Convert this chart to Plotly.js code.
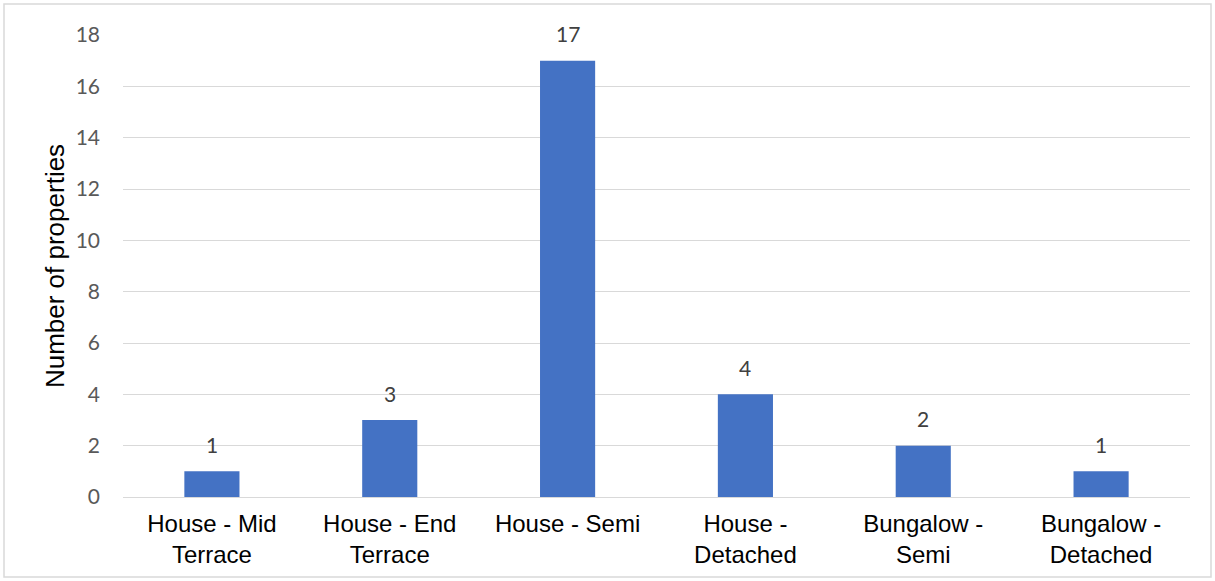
<!DOCTYPE html>
<html>
<head>
<meta charset="utf-8">
<script src="https://cdn.plot.ly/plotly-3.0.1.min.js"></script>
<style>
html, body { margin: 0; padding: 0; background: #ffffff; }
#chart { width: 1215px; height: 581px; }
</style>
</head>
<body>
<div id="chart"></div>
<script>
var categories = ["House - Mid<br>Terrace", "House - End<br>Terrace", "House - Semi", "House -<br>Detached", "Bungalow -<br>Semi", "Bungalow -<br>Detached"];
var counts = [1, 3, 17, 4, 2, 1];
var yTickValues = [0, 2, 4, 6, 8, 10, 12, 14, 16, 18];

var W = 1215, H = 581;
var M = {l: 123, r: 25, t: 35, b: 84};
var pw = W - M.l - M.r, ph = H - M.t - M.b;

var trace = {
  type: "bar",
  x: categories,
  y: counts,
  marker: {color: "#4472C4"},
  hoverinfo: "x+y"
};

var labels = categories.map(function (c, i) {
  return {
    x: c, y: counts[i], xref: "x", yref: "y",
    text: String(counts[i]), showarrow: false,
    yanchor: "middle", yshift: 27,
    font: {family: "Lato, 'Open Sans', sans-serif", size: 21, color: "#404040"}
  };
});

var layout = {
  width: W, height: H,
  margin: M,
  paper_bgcolor: "#ffffff",
  plot_bgcolor: "#ffffff",
  bargap: 0.69,
  showlegend: false,
  xaxis: {
    type: "category",
    showgrid: false,
    showline: false,
    ticks: "",
    ticklabelstandoff: 10,
    tickfont: {family: "'Liberation Sans', Arial, sans-serif", size: 24, color: "#000000"},
    automargin: false
  },
  yaxis: {
    range: [0, 18],
    tickvals: yTickValues,
    ticktext: yTickValues.map(String),
    showgrid: true,
    gridcolor: "#d9d9d9",
    gridwidth: 1,
    zeroline: true,
    zerolinecolor: "#d9d9d9",
    zerolinewidth: 1,
    showline: false,
    ticks: "",
    ticklabelstandoff: 22,
    tickfont: {family: "Lato, 'Open Sans', sans-serif", size: 21, color: "#595959"},
    title: {
      text: "Number of properties",
      font: {family: "'Liberation Sans', Arial, sans-serif", size: 26, color: "#000000"},
      standoff: 3
    },
    automargin: false
  },
  annotations: labels,
  shapes: [{
    type: "rect", xref: "paper", yref: "paper",
    x0: (4 - M.l) / pw, x1: (W - 4 - M.l) / pw,
    y0: (H - M.b - (H - 4)) / ph, y1: (H - M.b - 4) / ph,
    line: {color: "#d9d9d9", width: 1.5},
    fillcolor: "rgba(0,0,0,0)",
    layer: "below"
  }]
};

Plotly.newPlot("chart", [trace], layout, {displayModeBar: false, staticPlot: false});
</script>
</body>
</html>
